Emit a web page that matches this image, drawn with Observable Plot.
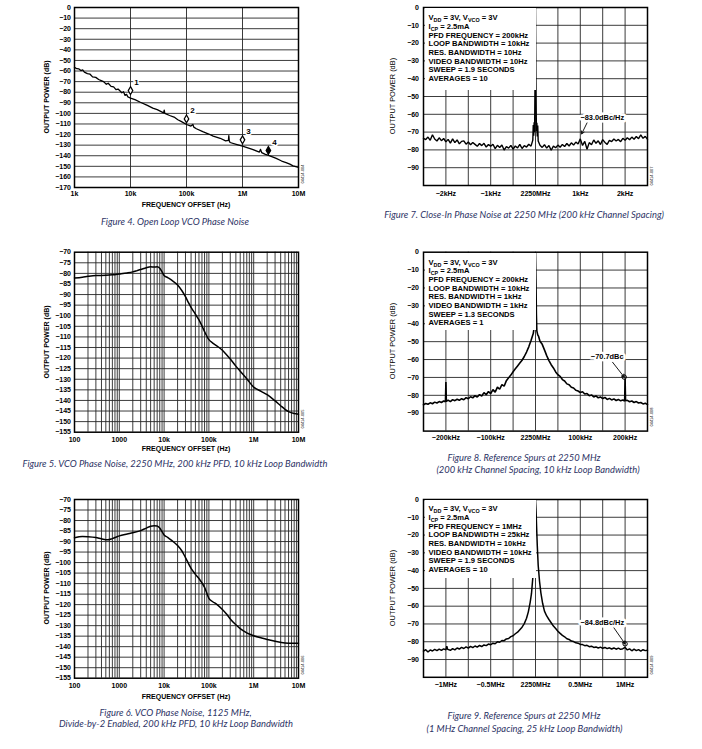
<!DOCTYPE html>
<html><head><meta charset="utf-8">
<script src="https://cdn.jsdelivr.net/npm/d3@7"></script>
<script src="https://cdn.jsdelivr.net/npm/@observablehq/plot@0.6"></script>
<style>
body{margin:0;background:#fff;}
#page{position:relative;width:702px;height:749px;overflow:hidden;background:#fff;font-family:"Liberation Sans",Arial,sans-serif;color:#000;}
.abs{position:absolute;white-space:nowrap;line-height:1;}
.cap{font-family:Lato,"Open Sans",sans-serif;font-style:italic;font-size:9.4px;color:#2e3466;transform:translate(-50%,-50%);}
.ylab{font-size:7px;transform:translate(-50%,-50%) rotate(-90deg);}
.xlab{font-size:7px;font-weight:bold;transform:translate(-50%,-50%);}
.code{font-size:4px;transform:translate(-50%,-50%) rotate(-90deg);}
.note{background:#fff;font-size:7.6px;font-weight:bold;line-height:8.67px;box-sizing:border-box;padding-left:4px;}
.note sub{font-size:5.4px;vertical-align:-1.6px;line-height:0;}
</style></head>
<body><div id="page"></div>
<script>
// ---------- Figure 4: open loop VCO phase noise ----------
const fig4Freq = [1000,1100,1200,1300,1400,1500,1700,1900,2100,2400,2700,3000,3300,3700,4000,4500,5000,5500,6000,7000,7500,8000,8500,9000,10000,12000,15000,20000,25000,30000,39000,40000,41000,50000,60000,70000,80000,100000,120000,130000,135000,150000,200000,250000,300000,400000,500000,560000,570000,580000,600000,800000,1000000,1500000,2000000,2100000,2200000,2500000,3000000,4000000,5000000,6000000,7000000,8000000,10000000];
const fig4dB   = [-56.5,-57.8,-58,-59.6,-59,-61,-62.5,-63,-65.5,-66,-68,-69,-70,-72.5,-71.5,-74.5,-75,-77.5,-77,-80.5,-79.5,-83,-82,-84.5,-85.5,-87,-89.5,-92.5,-95,-96.5,-99.5,-97,-100,-102,-103.5,-106,-107.5,-110.5,-112,-110.5,-113,-114.5,-117.5,-119.5,-121.5,-123.5,-126,-125.5,-121,-126,-127.5,-129.5,-131,-134,-136.5,-134,-137,-138.5,-140,-142.5,-145,-146.5,-148,-149.5,-151];
const fig4MarkFreq = [10000,100000,1000000,2900000];
const fig4MarkdB   = [-78.5,-105.2,-125,-135];
const fig4MarkLabel = ["1","2","3","4"];
const fig4MarkFilled = [false,false,false,true];
const fig4YTicks = [0,-10,-20,-30,-40,-50,-60,-70,-80,-90,-100,-110,-120,-130,-140,-150,-160,-170];
const fig4XTicks = [1e3,1e4,1e5,1e6,1e7];
const fig4XLabels = ["1k","10k","100k","1M","10M"];

// ---------- Figure 5: VCO phase noise 2250 MHz ----------
const fig5Freq = [100,150,200,300,500,700,1000,1500,2000,2500,3000,4000,5000,6000,7000,8000,9000,10000,12000,15000,20000,25000,30000,35000,40000,50000,60000,70000,80000,100000,120000,150000,200000,250000,300000,400000,500000,700000,1000000,1500000,2000000,3000000,4000000,5000000,6000000,8000000,10000000];
const fig5dB   = [-82.2,-81.8,-81.4,-81.0,-80.9,-80.7,-80.3,-79.8,-79.3,-78.7,-78.2,-77.3,-76.9,-77.0,-76.9,-77.6,-79.3,-81.0,-82.0,-83.3,-85.5,-88.2,-91.0,-93.8,-96.0,-99.3,-102.0,-104.8,-107.5,-111.3,-112.8,-114.2,-116.3,-118.5,-120.4,-123.8,-126.2,-129.8,-133.7,-135.8,-137.3,-140.2,-142.5,-144.2,-145.3,-146.2,-146.5];

// ---------- Figure 6: VCO phase noise 1125 MHz ----------
const fig6Freq = [100,150,200,300,400,550,700,1000,1500,2000,3000,4000,5000,6000,7000,8000,9000,10000,12000,15000,20000,25000,30000,40000,50000,60000,80000,100000,120000,150000,200000,250000,300000,400000,500000,700000,1000000,1500000,2000000,3000000,5000000,7000000,10000000];
const fig6dB   = [-88.2,-87.6,-87.7,-88.1,-88.7,-89.2,-88.6,-87.3,-86.4,-85.8,-84.8,-83.6,-82.7,-82.5,-82.6,-83.6,-85.3,-86.9,-88.0,-89.6,-91.9,-94.5,-97.6,-102.8,-105.6,-107.6,-111.8,-117.0,-118.5,-119.9,-122.3,-124.6,-126.8,-129.6,-131.4,-133.4,-134.8,-135.9,-136.6,-137.4,-138.2,-138.4,-138.4];
const logYTicks = [-70,-75,-80,-85,-90,-95,-100,-105,-110,-115,-120,-125,-130,-135,-140,-145,-150,-155];
const logXTicks = [1e2,1e3,1e4,1e5,1e6,1e7];
const logXLabels = ["100","1000","10k","100k","1M","10M"];

// ---------- Figure 7: close-in phase noise (kHz offset) ----------
const fig7Off = [-2.5,-2.45,-2.4,-2.35,-2.3,-2.25,-2.2,-2.15,-2.1,-2.05,-2,-1.95,-1.9,-1.85,-1.8,-1.75,-1.7,-1.65,-1.6,-1.55,-1.5,-1.45,-1.4,-1.35,-1.3,-1.25,-1.2,-1.15,-1.1,-1.05,-1,-0.95,-0.9,-0.85,-0.8,-0.75,-0.7,-0.65,-0.6,-0.55,-0.5,-0.45,-0.4,-0.35,-0.3,-0.25,-0.2,-0.15,-0.1,-0.06,-0.05,-0.04,-0.03,-0.02,-0.01,0,0.01,0.02,0.03,0.04,0.05,0.06,0.1,0.15,0.2,0.25,0.3,0.35,0.4,0.45,0.5,0.55,0.6,0.65,0.7,0.75,0.8,0.85,0.9,0.95,1,1.05,1.1,1.15,1.2,1.25,1.3,1.35,1.4,1.45,1.5,1.55,1.6,1.65,1.7,1.75,1.8,1.85,1.9,1.95,2,2.05,2.1,2.15,2.2,2.25,2.3,2.35,2.4,2.45,2.5];
const fig7dB  = [-73.5,-74.2,-72.8,-74.6,-71.5,-73.9,-75.0,-73.2,-74.8,-73.6,-75.5,-74.1,-76.2,-73.8,-75.9,-74.4,-76.6,-75.2,-74.9,-76.8,-75.6,-77.1,-75.8,-76.9,-78.0,-76.4,-77.6,-76.3,-78.4,-77.0,-77.9,-76.8,-79.3,-77.4,-78.6,-77.2,-80.1,-78.1,-79.0,-77.5,-79.6,-77.8,-78.9,-76.9,-79.2,-77.6,-78.4,-76.8,-77.9,-74.5,-66.0,-72.0,-64.5,-70.0,-40,0,-40,-69.5,-64.8,-72.5,-66.3,-75.0,-77.4,-78.6,-77.1,-79.0,-77.5,-80.2,-77.9,-78.8,-77.3,-78.5,-76.9,-78.1,-76.4,-77.8,-76.0,-77.3,-75.6,-76.7,-73.8,-77.5,-75.2,-79.6,-75.9,-77.1,-74.4,-76.3,-74.9,-77.0,-74.2,-75.8,-76.9,-74.6,-75.3,-73.9,-75.0,-74.1,-75.4,-73.5,-74.6,-73.2,-74.3,-72.8,-74.0,-72.5,-73.7,-71.6,-73.5,-72.4,-74.0];
const spanYTicks = [0,-10,-20,-30,-40,-50,-60,-70,-80,-90];
const fig7XTicks = [-2,-1,0,1,2];
const fig7XLabels = ["−2kHz","−1kHz","2250MHz","1kHz","2kHz"];
const fig7Note = ["V<sub>DD</sub> = 3V, V<sub>VCO</sub> = 3V","I<sub>CP</sub> = 2.5mA","PFD FREQUENCY = 200kHz","LOOP BANDWIDTH = 10kHz","RES. BANDWIDTH = 10Hz","VIDEO BANDWIDTH = 10Hz","SWEEP = 1.9 SECONDS","AVERAGES = 10"];

// ---------- Figure 8: reference spurs, 200 kHz spacing (kHz offset) ----------
const fig8Off = [-250,-245,-240,-235,-230,-225,-220,-215,-210,-205,-201,-200,-199,-195,-190,-185,-180,-175,-170,-165,-160,-155,-150,-145,-140,-135,-130,-125,-120,-115,-110,-105,-100,-95,-90,-85,-80,-75,-70,-65,-60,-55,-50,-45,-40,-35,-30,-25,-20,-15,-10,-7,-5,-3,-2,-1,0,1,2,3,5,7,10,15,20,25,30,35,40,45,50,55,60,65,70,75,80,85,90,95,100,105,110,115,120,125,130,135,140,145,150,155,160,165,170,175,180,185,190,195,199,200,201,205,210,215,220,225,230,235,240,245,250];
const fig8dB  = [-85.3,-84.6,-85.0,-84.2,-84.7,-83.8,-84.3,-83.5,-84.0,-83.2,-83.6,-72.5,-83.4,-82.7,-83.5,-82.4,-83.0,-82.2,-82.8,-81.9,-82.5,-81.3,-81.9,-80.8,-81.4,-80.2,-80.9,-79.6,-80.4,-78.5,-79.7,-77.9,-79.0,-76.8,-78.2,-75.4,-76.6,-74.0,-74.9,-71.8,-70.2,-68.7,-66.8,-65.2,-63.6,-62.0,-60.4,-58.3,-55.8,-52.9,-49.3,-47.0,-45.5,-42,-35,-15,0,-15,-35,-44,-46.2,-47.1,-49.8,-51.5,-54.6,-57.8,-60.6,-62.9,-64.7,-66.9,-68.5,-69.4,-71.2,-72.0,-73.6,-74.1,-75.5,-75.9,-77.2,-77.6,-78.4,-78.0,-79.3,-79.0,-80.2,-79.8,-80.9,-80.3,-81.4,-80.9,-81.8,-81.2,-82.3,-81.7,-82.6,-82.0,-82.9,-82.3,-83.1,-82.6,-83.2,-70.7,-83.0,-82.8,-83.6,-83.2,-84.0,-83.5,-84.3,-84.0,-84.8,-84.4,-85.2];
const fig8XTicks = [-200,-100,0,100,200];
const fig8XLabels = ["−200kHz","−100kHz","2250MHz","100kHz","200kHz"];
const fig8Note = ["V<sub>DD</sub> = 3V, V<sub>VCO</sub> = 3V","I<sub>CP</sub> = 2.5mA","PFD FREQUENCY = 200kHz","LOOP BANDWIDTH = 10kHz","RES. BANDWIDTH = 1kHz","VIDEO BANDWIDTH = 1kHz","SWEEP = 1.3 SECONDS","AVERAGES = 1"];

// ---------- Figure 9: reference spurs, 1 MHz spacing (MHz offset) ----------
const fig9Off = [-1.25,-1.225,-1.2,-1.175,-1.15,-1.125,-1.1,-1.075,-1.05,-1.025,-1,-0.99,-0.98,-0.95,-0.925,-0.9,-0.875,-0.85,-0.825,-0.8,-0.775,-0.75,-0.725,-0.7,-0.675,-0.65,-0.625,-0.6,-0.575,-0.55,-0.525,-0.5,-0.475,-0.45,-0.425,-0.4,-0.375,-0.35,-0.325,-0.3,-0.275,-0.25,-0.225,-0.2,-0.175,-0.15,-0.125,-0.1,-0.08,-0.06,-0.045,-0.03,-0.02,-0.01,-0.004,0,0.006,0.012,0.02,0.03,0.045,0.06,0.08,0.1,0.125,0.15,0.175,0.2,0.225,0.25,0.275,0.3,0.325,0.35,0.375,0.4,0.425,0.45,0.475,0.5,0.525,0.55,0.575,0.6,0.625,0.65,0.675,0.7,0.725,0.75,0.775,0.8,0.825,0.85,0.875,0.9,0.925,0.95,0.975,1,1.025,1.05,1.075,1.1,1.125,1.15,1.175,1.2,1.225,1.25];
const fig9dB  = [-85.3,-84.5,-85.8,-84.6,-85.2,-84.3,-85.0,-84.2,-84.9,-84.0,-84.6,-82.5,-84.3,-84.8,-83.9,-84.6,-83.5,-84.1,-83.2,-83.8,-82.9,-83.6,-82.6,-83.3,-82.4,-83.0,-82.1,-82.7,-81.8,-82.2,-81.3,-81.7,-80.8,-81.1,-80.0,-80.3,-79.3,-79.4,-78.4,-78.2,-77.1,-76.6,-75.5,-74.6,-73.2,-71.8,-69.8,-66.8,-63.2,-58.0,-53.0,-44.0,-35.0,-22.0,-8,0,-6,-15,-26,-37,-46,-52.5,-58.5,-62.8,-65.5,-67.5,-69.3,-71.2,-72.6,-74.1,-75.3,-76.4,-77.2,-78.3,-78.7,-79.6,-79.9,-80.6,-80.8,-81.5,-81.6,-82.2,-82.0,-82.8,-82.5,-83.2,-82.9,-83.5,-83.0,-83.7,-83.2,-83.9,-83.4,-84.1,-83.5,-84.2,-83.6,-84.3,-83.9,-83.2,-84.6,-84.0,-85.1,-84.2,-85.0,-84.4,-85.3,-84.5,-85.0,-84.8];
const fig9XTicks = [-1,-0.5,0,0.5,1];
const fig9XLabels = ["−1MHz","−0.5MHz","2250MHz","0.5MHz","1MHz"];
const fig9Note = ["V<sub>DD</sub> = 3V, V<sub>VCO</sub> = 3V","I<sub>CP</sub> = 2.5mA","PFD FREQUENCY = 1MHz","LOOP BANDWIDTH = 25kHz","RES. BANDWIDTH = 10kHz","VIDEO BANDWIDTH = 10kHz","SWEEP = 1.9 SECONDS","AVERAGES = 10"];

// annotations
const fig7Ann = {label:"−83.0dBc/Hz", lx:1.49, ly:-61.8, x1:1.17, y1:-63.8, x2:1.03, y2:-71};
const fig8Ann = {label:"−70.7dBc", lx:160, ly:-58.1, x1:172, y1:-61.5, x2:198, y2:-69.8};
const fig9Ann = {label:"−84.8dBc/Hz", lx:0.745, ly:-69, x1:0.87, y1:-71.8, x2:1.0, y2:-81.2};

// ---------- helpers ----------
const page = document.getElementById("page");
const zip = (xs, ys) => xs.map((x, i) => ({x, y: ys[i]}));
const GRID = {stroke: "#262626", strokeOpacity: 1, strokeWidth: 0.9};
const FONT = {fontFamily: "'Liberation Sans', Arial, sans-serif", fontSize: "7px", fontWeight: "bold", background: "transparent", overflow: "visible", color: "#000"};

function place(svg, left, top) {
  svg.style.position = "absolute";
  svg.style.left = left + "px";
  svg.style.top = top + "px";
  svg.style.maxWidth = "none";
  page.appendChild(svg);
}
function txt(html, cls, x, y, extra) {
  const d = document.createElement("div");
  d.className = "abs " + cls;
  d.innerHTML = html;
  d.style.left = x + "px";
  d.style.top = y + "px";
  if (extra) Object.assign(d.style, extra);
  page.appendChild(d);
  return d;
}
function note(lines, left, top, width, height, padTop) {
  const d = document.createElement("div");
  d.className = "abs note";
  d.style.left = left + "px"; d.style.top = top + "px";
  d.style.width = width + "px"; d.style.height = height + "px";
  d.style.paddingTop = padTop + "px";
  d.innerHTML = lines.join("<br>");
  page.appendChild(d);
}

// log-decade grids
function decadeMinor(lo, hi) {
  const out = [];
  for (let e = lo; e < hi; e++) for (let k = 1; k <= 9; k++) out.push(k * Math.pow(10, e));
  return out.filter(v => v > Math.pow(10, lo));
}

// ---------- Figure 4 ----------
{
  const data = zip(fig4Freq, fig4dB);
  const marks = fig4MarkFreq.map((x, i) => ({x, y: fig4MarkdB[i], label: fig4MarkLabel[i], filled: fig4MarkFilled[i]}));
  const lab = new Map(fig4XTicks.map((t, i) => [t, fig4XLabels[i]]));
  place(Plot.plot({
    width: 350, height: 212, marginLeft: 74, marginRight: 52, marginTop: 7, marginBottom: 25,
    x: {type: "log", domain: [1e3, 1e7]}, y: {domain: [-170, 0]},
    style: FONT,
    marks: [
      Plot.gridY(fig4YTicks.filter(v => v > -170 && v < 0), GRID),
      Plot.gridX(fig4XTicks.slice(1, -1), GRID),
      Plot.line(data, {x: "x", y: "y", stroke: "#000", strokeWidth: 1.3}),
      Plot.text(marks, {x: "x", y: "y", text: "label", dx: 6, dy: -8, fontSize: 8, fontWeight: "bold", fill: "#000", stroke: "#fff", strokeWidth: 3}),
      Plot.dot(marks.filter(d => !d.filled), {x: "x", y: "y", symbol: "diamond", r: 2.4, stroke: "#000", strokeWidth: 1.2, fill: "#fff"}),
      Plot.dot(marks.filter(d => d.filled), {x: "x", y: "y", symbol: "diamond", r: 2.4, stroke: "#000", strokeWidth: 1.2, fill: "#000"}),
      Plot.frame({stroke: "#000", strokeWidth: 1.5}),
      Plot.axisY(fig4YTicks, {tickSize: 0, tickPadding: 3.5, label: null}),
      Plot.axisX(fig4XTicks, {tickSize: 0, tickPadding: 3.5, label: null, tickFormat: d => lab.get(d)})
    ]
  }), 0, 0);
}

// ---------- Figures 5 & 6 ----------
function logPanel(freq, db, top, mt, mb) {
  const lab = new Map(logXTicks.map((t, i) => [t, logXLabels[i]]));
  place(Plot.plot({
    width: 350, height: 212, marginLeft: 74, marginRight: 52, marginTop: mt, marginBottom: mb,
    x: {type: "log", domain: [1e2, 1e7]}, y: {domain: [-155, -70]},
    style: FONT,
    marks: [
      Plot.gridY(logYTicks.filter(v => v > -155 && v < -70), GRID),
      Plot.gridX(decadeMinor(2, 7), GRID),
      Plot.line(zip(freq, db), {x: "x", y: "y", stroke: "#000", strokeWidth: 1.5, curve: "monotone-x"}),
      Plot.frame({stroke: "#000", strokeWidth: 1.5}),
      Plot.axisY(logYTicks, {tickSize: 0, tickPadding: 3.5, label: null}),
      Plot.axisX(logXTicks, {tickSize: 0, tickPadding: mb > 20.5 ? 3.5 : 4.5, label: null, tickFormat: d => lab.get(d)})
    ]
  }), 0, top);
}
logPanel(fig5Freq, fig5dB, 240, 11.7, 20.3);
logPanel(fig6Freq, fig6dB, 485, 14, 19.3);

// ---------- Figures 7, 8, 9 ----------
function spanPanel(off, db, half, step, ticks, labels, ann, top, mt, mb, pad, circle, sw) {
  const lab = new Map(ticks.map((t, i) => [t, labels[i]]));
  const gx = [];
  for (let v = -half + step; v < half - step / 2; v += step) gx.push(+v.toFixed(6));
  const extra = circle ? [Plot.dot([ann], {x: "x2", y: "y2", r: 2.2, stroke: "#000", fill: "none", strokeWidth: 1})] : [];
  place(Plot.plot({
    width: 352, height: 212, marginLeft: 73, marginRight: 55, marginTop: mt, marginBottom: mb,
    x: {domain: [-half, half]}, y: {domain: [-100, 0]},
    style: FONT,
    marks: [
      Plot.gridY(spanYTicks.filter(v => v < 0), GRID),
      Plot.gridX(gx, GRID),
      Plot.line(zip(off, db), {x: "x", y: "y", stroke: "#000", strokeWidth: sw, strokeLinejoin: "miter"}),
      ...extra,
      Plot.arrow([ann], {x1: "x1", y1: "y1", x2: "x2", y2: "y2", stroke: "#000", strokeWidth: 0.9, headLength: 5}),
      Plot.text([ann], {x: "lx", y: "ly", text: "label", fontSize: 7.4, fontWeight: "bold", fill: "#000", stroke: "#fff", strokeWidth: 5}),
      Plot.frame({stroke: "#000", strokeWidth: 1.5}),
      Plot.axisY(spanYTicks, {tickSize: 0, tickPadding: 4.5, label: null}),
      Plot.axisX(ticks, {tickSize: 0, tickPadding: pad, label: null, tickFormat: d => lab.get(d)})
    ]
  }), 350, top);
}
spanPanel(fig7Off, fig7dB, 2.5, 0.5, fig7XTicks, fig7XLabels, fig7Ann, 0, 7, 27, 5.5, false, 1.4);
spanPanel(fig8Off, fig8dB, 250, 50, fig8XTicks, fig8XLabels, fig8Ann, 240, 11.7, 21.4, 4, true, 1.6);
spanPanel(fig9Off, fig9dB, 1.25, 0.25, fig9XTicks, fig9XLabels, fig9Ann, 485, 14, 20.2, 5, true, 1.5);

// condition boxes
note(fig7Note, 424.5, 8, 111, 82, 6.3);
note(fig8Note, 424.5, 252.5, 111, 77.5, 6);
note(fig9Note, 424.5, 500, 111, 78, 5.2);

// axis titles
txt("FREQUENCY OFFSET (Hz)", "xlab", 186, 204);
txt("FREQUENCY OFFSET (Hz)", "xlab", 186, 448);
txt("FREQUENCY OFFSET (Hz)", "xlab", 186, 695.7);
txt("OUTPUT POWER (dB)", "ylab", 45.7, 97, {fontWeight: "bold"});
txt("OUTPUT POWER (dB)", "ylab", 45.7, 341.7, {fontWeight: "bold"});
txt("OUTPUT POWER (dB)", "ylab", 45.7, 588.4, {fontWeight: "bold"});
txt("OUTPUT POWER (dB)", "ylab", 393, 96, {fontSize: "7.4px"});
txt("OUTPUT POWER (dB)", "ylab", 393, 341, {fontSize: "7.4px"});
txt("OUTPUT POWER (dB)", "ylab", 393.3, 588, {fontSize: "7.4px"});

// figure codes
txt("04414-004", "code", 303, 174);
txt("04414-007", "code", 652, 176);
txt("04414-005", "code", 303, 419);
txt("04414-008", "code", 652, 416.5);
txt("04414-006", "code", 303, 665);
txt("04414-009", "code", 652, 665);

// captions
txt("Figure 4. Open Loop VCO Phase Noise", "cap", 175, 222);
txt("Figure 7. Close-In Phase Noise at 2250 MHz (200 kHz Channel Spacing)", "cap", 524, 215);
txt("Figure 5. VCO Phase Noise, 2250 MHz, 200 kHz PFD, 10 kHz Loop Bandwidth", "cap", 175, 464.3);
txt("Figure 8. Reference Spurs at 2250 MHz", "cap", 524, 458.3);
txt("(200 kHz Channel Spacing, 10 kHz Loop Bandwidth)", "cap", 538, 470);
txt("Figure 6. VCO Phase Noise, 1125 MHz,", "cap", 175.5, 713.3);
txt("Divide-by-2 Enabled, 200 kHz PFD, 10 kHz Loop Bandwidth", "cap", 176, 723.7);
txt("Figure 9. Reference Spurs at 2250 MHz", "cap", 524, 716);
txt("(1 MHz Channel Spacing, 25 kHz Loop Bandwidth)", "cap", 524.5, 728.7);
</script>
</body></html>
